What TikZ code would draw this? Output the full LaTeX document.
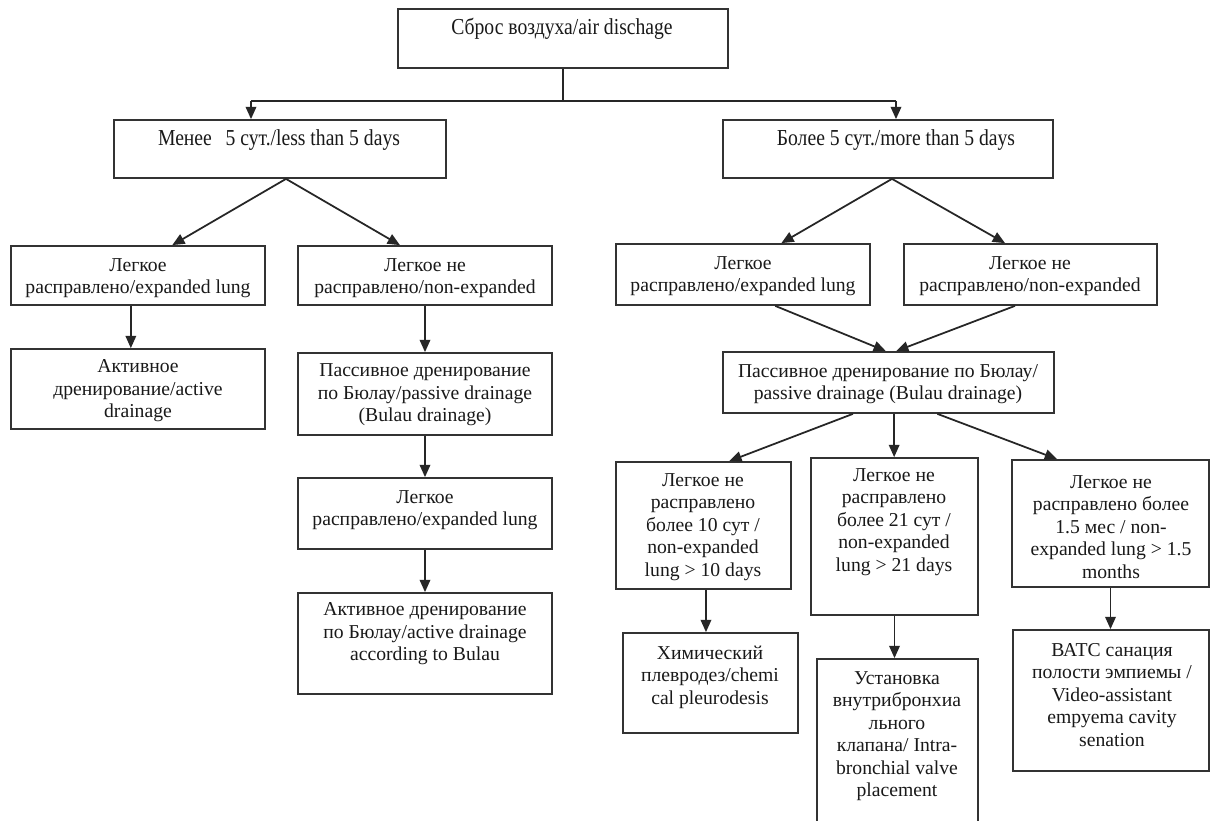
\documentclass[tikz,border=0pt]{standalone}
\usepackage{fontspec}
\setmainfont{Liberation Serif}
\newfontfamily\condfont[FakeStretch=0.86]{Liberation Serif}
\usetikzlibrary{arrows.meta,calc,fit}
\begin{document}
\begin{tikzpicture}[x=0.02cm,y=-0.02cm,
  box/.style={draw=black!80, line width=1pt, rectangle, inner sep=0pt},
  txt/.style={align=center, inner sep=0pt, text=black!90, font=\fontsize{11.2}{12.8}\selectfont},
  ctxt/.style={align=center, inner sep=0pt, text=black!90, font=\condfont\fontsize{13}{14}\selectfont},
  arr/.style={line width=1pt, draw=black!85, -{Triangle[length=7pt,width=6pt]}},
  ln/.style={line width=1pt, draw=black!85}]
\useasboundingbox[fill=white] (0,0) rectangle (1211,821);

% boxes
\node[box, fit={(398,9) (728,68)}] (top) {};
\node[box, fit={(114,120) (446,178)}] (men) {};
\node[box, fit={(723,120) (1053,178)}] (bol) {};
\node[box, fit={(11,246) (265,305)}] (L1) {};
\node[box, fit={(298,246) (552,305)}] (L2) {};
\node[box, fit={(11,349) (265,429)}] (act1) {};
\node[box, fit={(298,353) (552,435)}] (pas1) {};
\node[box, fit={(298,478) (552,549)}] (exp2) {};
\node[box, fit={(298,593) (552,694)}] (act2) {};
\node[box, fit={(616,244) (870,305)}] (R1) {};
\node[box, fit={(904,244) (1157,305)}] (R2) {};
\node[box, fit={(723,352) (1054,413)}] (P) {};
\node[box, fit={(616,462) (791,589)}] (A) {};
\node[box, fit={(811,458) (978,615)}] (B) {};
\node[box, fit={(1012,460) (1209,587)}] (C) {};
\node[box, fit={(623,633) (798,733)}] (chem) {};
\node[box, fit={(817,659) (978,835)}] (intr) {};
\node[box, fit={(1013,630) (1209,771)}] (vats) {};

% texts
\node[ctxt] (ttop) at (562,29) {Сброс воздуха/air dischage};
\node[ctxt] (tmen) at (279,140) {Менее\hspace{0.6em}5 сут./less than 5 days};
\node[ctxt] (tbol) at (896,140) {Более 5 сут./more than 5 days};
\node[txt] (tL1) at (138,278) {Легкое\\расправлено/expanded lung};
\node[txt] (tL2) at (425,278) {Легкое не\\расправлено/non-expanded};
\node[txt] (tact1) at (138,391) {Активное\\дренирование/active\\drainage};
\node[txt] (tpas1) at (425,395) {Пассивное дренирование\\по Бюлау/passive drainage\\(Bulau drainage)};
\node[txt] (texp2) at (425,510) {Легкое\\расправлено/expanded lung};
\node[txt] (tact2) at (425,634) {Активное дренирование\\по Бюлау/active drainage\\according to Bulau};
\node[txt] (tR1) at (743,276) {Легкое\\расправлено/expanded lung};
\node[txt] (tR2) at (1030,276) {Легкое не\\расправлено/non-expanded};
\node[txt] (tP) at (888,384) {Пассивное дренирование по Бюлау/\\passive drainage (Bulau drainage)};
\node[txt] (tA) at (703,527) {Легкое не\\расправлено\\более 10 сут /\\non-expanded\\lung > 10 days};
\node[txt] (tB) at (894,522) {Легкое не\\расправлено\\более 21 сут /\\non-expanded\\lung > 21 days};
\node[txt] (tC) at (1111,527) {Легкое не\\расправлено более\\1.5 мес / non-\\expanded lung > 1.5\\months};
\node[txt] (tchem) at (710,677) {Химический\\плевродез/chemi\\cal pleurodesis};
\node[txt] (tintr) at (897,736) {Установка\\внутрибронхиа\\льного\\клапана/ Intra-\\bronchial valve\\placement};
\node[txt] (tvats) at (1112,695) {ВАТС санация\\полости эмпиемы /\\Video-assistant\\empyema cavity\\senation};

% connectors
\coordinate (jL) at (251,101);
\coordinate (jR) at (896,101);
\draw[ln] (top.south) -- (top.south |- jL);
\draw[ln] (jL) -- (jR);
\draw[arr] (jL) -- (jL |- men.north);
\draw[arr] (jR) -- (jR |- bol.north);

\coordinate (mb) at ($(men.south west)!0.518!(men.south east)$);
\draw[arr] (mb) -- ($(L1.north west)!0.634!(L1.north east)$);
\draw[arr] (mb) -- ($(L2.north west)!0.402!(L2.north east)$);
\coordinate (bb) at ($(bol.south west)!0.512!(bol.south east)$);
\draw[arr] (bb) -- ($(R1.north west)!0.65!(R1.north east)$);
\draw[arr] (bb) -- ($(R2.north west)!0.40!(R2.north east)$);

\coordinate (l1b) at ($(L1.south west)!0.472!(L1.south east)$);
\draw[arr] (l1b) -- (l1b |- act1.north);
\draw[arr] (L2.south) -- (L2.south |- pas1.north);
\draw[arr] (pas1.south) -- (exp2.north);
\draw[arr] (exp2.south) -- (act2.north);

\draw[arr] ($(R1.south west)!0.626!(R1.south east)$) -- ($(P.north west)!0.492!(P.north east)$);
\draw[arr] ($(R2.south west)!0.439!(R2.south east)$) -- ($(P.north west)!0.523!(P.north east)$);

\draw[arr] ($(P.south west)!0.393!(P.south east)$) -- ($(A.north west)!0.646!(A.north east)$);
\coordinate (pm) at ($(P.south west)!0.517!(P.south east)$);
\draw[arr] (pm) -- (pm |- B.north);
\draw[arr] ($(P.south west)!0.647!(P.south east)$) -- ($(C.north west)!0.231!(C.north east)$);

\coordinate (ab) at ($(A.south west)!0.514!(A.south east)$);
\draw[arr] (ab) -- (ab |- chem.north);
\draw[arr] (B.south) -- (B.south |- intr.north);
\draw[arr] (C.south) -- (C.south |- vats.north);
\end{tikzpicture}
\end{document}
